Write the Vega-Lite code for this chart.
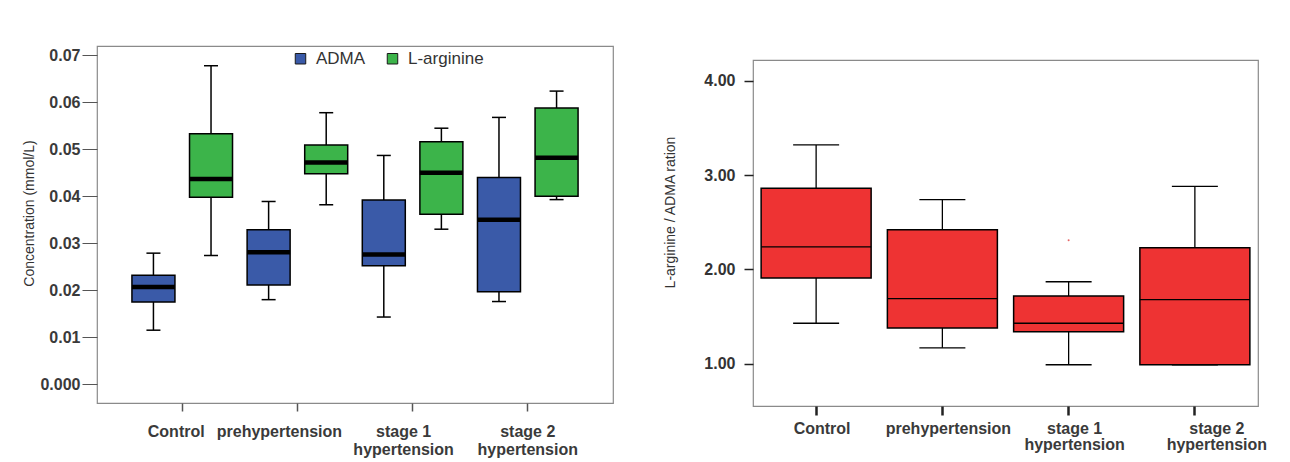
{
  "$schema": "https://vega.github.io/schema/vega-lite/v6.json",
  "background": "white",
  "padding": {"left": 22, "top": 45, "right": 5, "bottom": 2},
  "config": {
    "view": {"stroke": "#8a8a8a", "strokeWidth": 1.2},
    "font": "Liberation Sans"
  },
  "datasets": {
    "conc": [
      {"group": "Control", "series": "ADMA", "lo": 0.0115, "q1": 0.0175, "med": 0.0207, "q3": 0.0232, "hi": 0.0279},
      {"group": "Control", "series": "L-arginine", "lo": 0.0274, "q1": 0.0398, "med": 0.0437, "q3": 0.0533, "hi": 0.0678},
      {"group": "prehypertension", "series": "ADMA", "lo": 0.018, "q1": 0.0211, "med": 0.0281, "q3": 0.0329, "hi": 0.0389},
      {"group": "prehypertension", "series": "L-arginine", "lo": 0.0382, "q1": 0.0448, "med": 0.0472, "q3": 0.0509, "hi": 0.0578},
      {"group": "stage 1 hypertension", "series": "ADMA", "lo": 0.0143, "q1": 0.0252, "med": 0.0276, "q3": 0.0392, "hi": 0.0487},
      {"group": "stage 1 hypertension", "series": "L-arginine", "lo": 0.033, "q1": 0.0362, "med": 0.045, "q3": 0.0516, "hi": 0.0545},
      {"group": "stage 2 hypertension", "series": "ADMA", "lo": 0.0176, "q1": 0.0197, "med": 0.035, "q3": 0.044, "hi": 0.0568},
      {"group": "stage 2 hypertension", "series": "L-arginine", "lo": 0.0393, "q1": 0.04, "med": 0.0482, "q3": 0.0588, "hi": 0.0624}
    ],
    "ratio": [
      {"group": "Control", "lo": 1.43, "q1": 1.91, "med": 2.24, "q3": 2.86, "hi": 3.32},
      {"group": "prehypertension", "lo": 1.17, "q1": 1.38, "med": 1.69, "q3": 2.42, "hi": 2.74},
      {"group": "stage 1 hypertension", "lo": 0.99, "q1": 1.34, "med": 1.43, "q3": 1.72, "hi": 1.87},
      {"group": "stage 2 hypertension", "lo": 0.99, "q1": 0.99, "med": 1.68, "q3": 2.23, "hi": 2.88}
    ],
    "outliers": [
      {"group": "stage 1 hypertension", "value": 2.31}
    ]
  },
  "hconcat": [
    {
      "width": 516,
      "height": 357,
      "data": {"name": "conc"},
      "encoding": {
        "x": {
          "field": "group", "type": "nominal",
          "sort": ["Control", "prehypertension", "stage 1 hypertension", "stage 2 hypertension"],
          "scale": {"paddingInner": 0, "paddingOuter": 0.24},
          "axis": {
            "title": null, "labelAngle": 0, "domain": false,
            "tickSize": 8, "tickColor": "#555", "tickWidth": 1.5,
            "labelPadding": 12, "labelFontSize": 16, "labelFontWeight": "bold", "labelColor": "#3a3a3a",
            "labelLineHeight": 18, "labelBaseline": "top",
            "labelOffset": {"condition": [
              {"test": "datum.label == 'Control'", "value": -6},
              {"test": "datum.label == 'prehypertension'", "value": -18},
              {"test": "datum.label == 'stage 1 hypertension'", "value": -9}
            ], "value": 0},
            "labelExpr": "datum.label == 'stage 1 hypertension' ? ['stage 1', 'hypertension'] : datum.label == 'stage 2 hypertension' ? ['stage 2', 'hypertension'] : datum.label"
          }
        },
        "xOffset": {
          "field": "series", "type": "nominal", "sort": ["ADMA", "L-arginine"],
          "scale": {"paddingInner": 0, "paddingOuter": 0}
        }
      },
      "layer": [
        {
          "mark": {"type": "rule", "color": "black", "strokeWidth": 1.5},
          "encoding": {
            "y": {
              "field": "lo", "type": "quantitative", "title": "Concentration (mmol/L)",
              "scale": {"domain": [-0.004, 0.072], "nice": false, "zero": false},
              "axis": {
                "values": [0, 0.01, 0.02, 0.03, 0.04, 0.05, 0.06, 0.07],
                "labelExpr": "datum.value == 0 ? '0.000' : format(datum.value, '.2f')",
                "grid": false, "domain": false,
                "tickSize": 15, "tickColor": "#555", "tickWidth": 1,
                "labelPadding": 2, "labelFontSize": 16, "labelFontWeight": "bold", "labelColor": "#3a3a3a",
                "titleFontSize": 14, "titleFontWeight": "normal", "titleColor": "#333",
                "titlePadding": 3, "titleY": 167
              }
            },
            "y2": {"field": "hi"}
          }
        },
        {
          "mark": {"type": "bar", "stroke": "black", "strokeWidth": 1.5, "width": 43},
          "encoding": {
            "y": {"field": "q1", "type": "quantitative", "title": "Concentration (mmol/L)"},
            "y2": {"field": "q3"},
            "color": {
              "field": "series", "type": "nominal",
              "scale": {"domain": ["ADMA", "L-arginine"], "range": ["#3a5aa8", "#3cb44a"]},
              "legend": {
                "title": null, "orient": "none", "direction": "horizontal",
                "legendX": 195, "legendY": 4,
                "symbolType": "square", "symbolSize": 110,
                "symbolStrokeColor": "#1a1a1a", "symbolStrokeWidth": 1,
                "labelFontSize": 17, "labelColor": "#333", "labelOffset": 7,
                "columnPadding": 18
              }
            }
          }
        },
        {
          "mark": {"type": "tick", "color": "black", "opacity": 1, "thickness": 4.5, "size": 43},
          "encoding": {"y": {"field": "med", "type": "quantitative", "title": "Concentration (mmol/L)"}}
        },
        {
          "mark": {"type": "tick", "color": "black", "opacity": 1, "thickness": 1.5, "size": 14},
          "encoding": {"y": {"field": "lo", "type": "quantitative", "title": "Concentration (mmol/L)"}}
        },
        {
          "mark": {"type": "tick", "color": "black", "opacity": 1, "thickness": 1.5, "size": 14},
          "encoding": {"y": {"field": "hi", "type": "quantitative", "title": "Concentration (mmol/L)"}}
        }
      ]
    },
    {
      "spacing": 12,
      "vconcat": [
        {
          "width": 505,
          "height": 1,
          "data": {"values": []},
          "mark": {"type": "point", "opacity": 0},
          "encoding": {},
          "view": {"stroke": null}
        },
        {
          "width": 505,
          "height": 346,
          "encoding": {
            "x": {
              "field": "group", "type": "nominal",
              "sort": ["Control", "prehypertension", "stage 1 hypertension", "stage 2 hypertension"],
              "scale": {"domain": ["Control", "prehypertension", "stage 1 hypertension", "stage 2 hypertension"], "paddingInner": 0, "paddingOuter": 0},
              "axis": {
                "title": null, "labelAngle": 0, "domain": false,
                "tickSize": 9, "tickColor": "#222", "tickWidth": 2.5,
                "labelPadding": 5, "labelFontSize": 16, "labelFontWeight": "bold", "labelColor": "#3a3a3a",
                "labelLineHeight": 16, "labelBaseline": "top",
                "labelOffset": {"condition": [
                  {"test": "datum.label == 'stage 2 hypertension'", "value": 22}
                ], "value": 6},
                "labelExpr": "datum.label == 'stage 1 hypertension' ? ['stage 1', 'hypertension'] : datum.label == 'stage 2 hypertension' ? ['stage 2', 'hypertension'] : datum.label"
              }
            }
          },
          "layer": [
            {
              "data": {"name": "ratio"},
              "mark": {"type": "rule", "color": "black", "strokeWidth": 1.3},
              "encoding": {
                "y": {
                  "field": "lo", "type": "quantitative", "title": "L-arginine / ADMA ration",
                  "scale": {"domain": [0.553, 4.22], "nice": false, "zero": false},
                  "axis": {
                    "values": [1, 2, 3, 4], "format": ".2f",
                    "grid": false, "domain": false,
                    "tickSize": 9, "tickColor": "#222", "tickWidth": 1.5,
                    "labelPadding": 9, "labelFontSize": 16, "labelFontWeight": "bold", "labelColor": "#333",
                    "titleFontSize": 14, "titleFontWeight": "normal", "titleColor": "#333",
                    "titlePadding": 26, "titleY": 152
                  }
                },
                "y2": {"field": "hi"}
              }
            },
            {
              "data": {"name": "ratio"},
              "mark": {"type": "bar", "color": "#ee3333", "stroke": "black", "strokeWidth": 1.5, "width": 110},
              "encoding": {
                "y": {"field": "q1", "type": "quantitative", "title": "L-arginine / ADMA ration"},
                "y2": {"field": "q3"}
              }
            },
            {
              "data": {"name": "ratio"},
              "mark": {"type": "tick", "color": "black", "opacity": 1, "thickness": 1.3, "size": 110},
              "encoding": {"y": {"field": "med", "type": "quantitative", "title": "L-arginine / ADMA ration"}}
            },
            {
              "data": {"name": "ratio"},
              "mark": {"type": "tick", "color": "black", "opacity": 1, "thickness": 1.3, "size": 46},
              "encoding": {"y": {"field": "lo", "type": "quantitative", "title": "L-arginine / ADMA ration"}}
            },
            {
              "data": {"name": "ratio"},
              "mark": {"type": "tick", "color": "black", "opacity": 1, "thickness": 1.3, "size": 46},
              "encoding": {"y": {"field": "hi", "type": "quantitative", "title": "L-arginine / ADMA ration"}}
            },
            {
              "data": {"name": "outliers"},
              "mark": {"type": "point", "filled": true, "color": "#e04040", "size": 4, "opacity": 0.8},
              "encoding": {"y": {"field": "value", "type": "quantitative", "title": "L-arginine / ADMA ration"}}
            }
          ]
        }
      ]
    }
  ],
  "spacing": 49
}
